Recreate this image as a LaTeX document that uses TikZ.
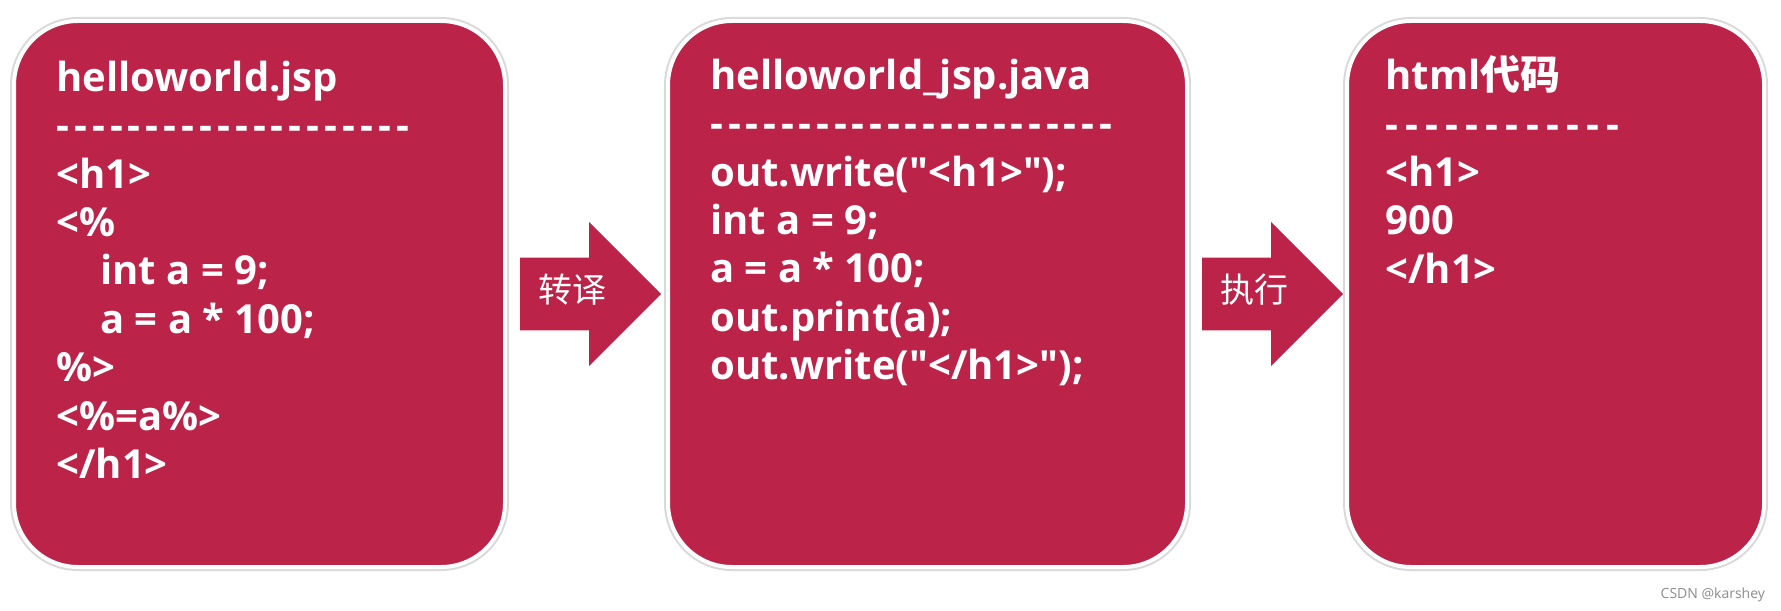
\documentclass[tikz,border=0pt]{standalone}
\usepackage{fontspec}
\setmainfont{Open Sans}
\newfontfamily\codefont{Open Sans}
\newfontfamily\cjk{Noto Sans CJK SC}
\usepackage{xcolor}
\usetikzlibrary{positioning,shapes.arrows}

\definecolor{jspred}{RGB}{187,35,72}
\newcommand{\dashrow}[2]{\foreach \i in {1,...,#1}{-\kern#2}}

\begin{document}
\begin{tikzpicture}[
  node distance=7.5pt,
  page/.style={rectangle, rounded corners=32pt, fill=jspred, draw=white, line width=2pt,
    preaction={draw=black!15, line width=4pt}, minimum height=273pt, inner sep=0pt, outer sep=0pt},
  code/.style={anchor=north west, align=left, inner sep=0pt, text=white,
    font=\codefont\fontsize{20}{24.2}\selectfont\bfseries},
  flowarr/.style={single arrow, fill=jspred, single arrow head extend=17.75pt,
    minimum height=70.5pt, text height=12pt, text depth=4pt, inner xsep=2pt, inner ysep=10pt,
    outer sep=0pt, text=white, font=\cjk\fontsize{17}{20}\selectfont}
]
  \useasboundingbox (0,0) rectangle (890.5pt,-305pt);

  \node[page, minimum width=245.5pt] (jsp) at (129.75pt,-147pt) {};
  \node[flowarr, right=7.5pt of jsp] (trans) {转译};
  \node[page, minimum width=259.5pt, right=3.5pt of trans] (java) {};
  \node[flowarr, right=7.5pt of java] (exec) {执行};
  \node[page, minimum width=208.5pt, right=2pt of exec] (html) {};

  \node[code] (jsptext) at ([xshift=21pt,yshift=-18pt]jsp.north west)
    {\strut helloworld.jsp\\ \dashrow{20}{2.5pt}\\ <h1>\\ <\%\\
     \hspace*{22pt}int a = 9;\\ \hspace*{22pt}a = a * 100;\\ \%>\\ <\%=a\%>\\ </h1>};
  \node[code] (javatext) at ([xshift=21pt,yshift=-17pt]java.north west)
    {\strut helloworld\_jsp.java\\ \dashrow{23}{2.4pt}\\ out.write("<h1>");\\
     int a = 9;\\ a = a * 100;\\ out.print(a);\\ out.write("</h1>");};
  \node[code] (htmltext) at ([xshift=19pt,yshift=-17pt]html.north west)
    {\strut html{\cjk\bfseries 代码}\\ \dashrow{12}{3.6pt}\\ <h1>\\ 900\\ </h1>};

  \node[anchor=base east, font=\fontsize{7}{8}\selectfont, text=black!45] (mark)
    at (886pt,-299pt) {CSDN @karshey};
\end{tikzpicture}
\end{document}
